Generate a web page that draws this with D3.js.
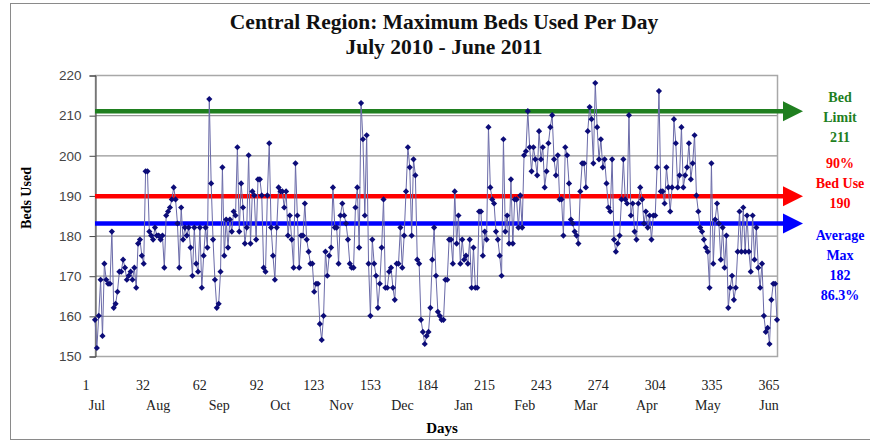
<!DOCTYPE html>
<html>
<head>
<meta charset="utf-8">
<script src="https://cdn.jsdelivr.net/npm/d3@7"></script>
<style>
  body { margin: 0; background: #fff; }
  svg { display: block; }
</style>
</head>
<body>
<svg id="chart" width="870" height="442"></svg>
<script>
// max beds used, one value per day, 1 Jul 2010 .. 30 Jun 2011
var beds = [
  159, 152, 160, 169, 155, 173, 169, 168, 168, 181,
  162, 163, 166, 171, 171, 174, 172, 169, 170, 171,
  169, 172, 167, 178, 179, 175, 173, 196, 196, 181,
  180, 179, 182, 180, 180, 179, 180, 172, 185, 186,
  187, 189, 192, 189, 183, 172, 187, 179, 182, 180,
  182, 177, 170, 182, 173, 171, 182, 167, 175, 182,
  177, 214, 193, 179, 169, 162, 163, 171, 197, 175,
  184, 177, 184, 181, 186, 185, 202, 181, 193, 187,
  178, 182, 200, 178, 191, 190, 179, 194, 194, 190,
  172, 171, 190, 203, 182, 175, 169, 182, 192, 191,
  191, 187, 191, 180, 185, 179, 172, 198, 185, 172,
  180, 180, 188, 179, 176, 173, 173, 166, 168, 168,
  158, 154, 160, 176, 170, 175, 177, 192, 182, 182,
  173, 185, 188, 185, 183, 179, 173, 172, 172, 187,
  192, 177, 213, 204, 185, 205, 173, 160, 179, 173,
  170, 162, 168, 177, 189, 167, 167, 171, 172, 167,
  164, 173, 173, 182, 172, 180, 191, 202, 197, 180,
  199, 195, 174, 173, 159, 156, 153, 155, 156, 162,
  174, 182, 170, 161, 160, 159, 159, 169, 169, 179,
  179, 173, 191, 178, 185, 173, 179, 174, 175, 173,
  179, 167, 177, 167, 167, 186, 186, 175, 181, 179,
  207, 192, 189, 188, 181, 179, 175, 170, 204, 181,
  185, 178, 194, 178, 189, 189, 182, 190, 182, 200,
  201, 211, 202, 196, 202, 199, 195, 206, 199, 202,
  192, 196, 203, 207, 210, 199, 195, 200, 189, 189,
  180, 202, 200, 193, 184, 183, 181, 180, 178, 191,
  198, 198, 192, 206, 212, 209, 198, 218, 207, 199,
  204, 197, 199, 193, 187, 186, 199, 179, 176, 178,
  180, 189, 199, 189, 188, 210, 185, 188, 181, 179,
  188, 192, 189, 183, 186, 182, 185, 179, 185, 185,
  197, 216, 191, 191, 188, 197, 192, 186, 192, 209,
  203, 192, 195, 207, 192, 195, 197, 203, 194, 198,
  205, 190, 186, 182, 181, 179, 177, 176, 167, 198,
  173, 184, 188, 183, 174, 182, 172, 180, 162, 167,
  170, 164, 167, 176, 186, 176, 187, 176, 185, 176,
  171, 185, 174, 182, 172, 167, 173, 160, 156, 157,
  153, 164, 168, 168, 159
];
var dayTicks = [1, 32, 62, 92, 123, 153, 184, 215, 243, 274, 304, 335, 365];
var months = ["Jul", "Aug", "Sep", "Oct", "Nov", "Dec", "Jan", "Feb", "Mar", "Apr", "May", "Jun"];
var yTicks = [150, 160, 170, 180, 190, 200, 210, 220];

// reference lines: bed limit, 90% use, average max
var refValues = [211, 189.8, 183];
var refLabels = [
  ["Bed", "Limit", "211"],
  ["90%", "Bed Use", "190"],
  ["Average", "Max", "182", "86.3%"]
];

var refColors = ["#1f7f1f", "#ff0000", "#0000ff"];
var labelTop = [97, 163, 235];
var serif = "'Liberation Serif', 'Times New Roman', serif";

var svg = d3.select("#chart");
var plotLeft = 95, plotRight = 777, plotTop = 75, plotBottom = 356;

var x = d3.scaleLinear().domain([1, 365]).range([plotLeft, plotRight]);
var y = d3.scaleLinear().domain([150, 220]).range([plotBottom, plotTop]);
var monthX = d3.scalePoint().domain(months).range([97, 769]);
// the day numbers sit in a typed row under the axis, not exactly on the days
var dayX = d3.scalePoint().domain(dayTicks).range([86, 769]);

// outer frame
svg.append("rect")
   .attr("x", 10.5).attr("y", 3.5)
   .attr("width", 870).attr("height", 436)
   .attr("fill", "#fff")
   .attr("stroke", "#8a8a8a");

// title
svg.append("text")
   .attr("x", 444).attr("y", 29)
   .attr("text-anchor", "middle")
   .attr("font-family", serif).attr("font-weight", "bold").attr("font-size", 21.5)
   .attr("fill", "#111")
   .text("Central Region: Maximum Beds Used Per Day");
svg.append("text")
   .attr("x", 444).attr("y", 54)
   .attr("text-anchor", "middle")
   .attr("font-family", serif).attr("font-weight", "bold").attr("font-size", 21.5)
   .attr("fill", "#111")
   .text("July 2010 - June 2011");

// grid lines
svg.append("g").selectAll("line")
   .data(yTicks.filter(function(t){ return t > 150 && t < 220; }))
   .enter().append("line")
   .attr("x1", plotLeft).attr("x2", plotRight)
   .attr("y1", function(d){ return y(d) + 0.5; })
   .attr("y2", function(d){ return y(d) + 0.5; })
   .attr("stroke", "#969696")
   .attr("stroke-width", 1.2);

// plot frame
svg.append("rect")
   .attr("x", plotLeft + 0.5).attr("y", plotTop + 0.5)
   .attr("width", plotRight - plotLeft).attr("height", plotBottom - plotTop)
   .attr("fill", "none")
   .attr("stroke", "#a8a8a8")
   .attr("stroke-width", 1.5);

// y axis
var yAxis = svg.append("g")
   .attr("transform", "translate(" + (plotLeft + 0.5) + ",0.5)")
   .call(d3.axisLeft(y).tickValues(yTicks).tickSize(6).tickPadding(8));
yAxis.select(".domain").attr("stroke", "#444");
yAxis.selectAll(".tick line").attr("stroke", "#444");
yAxis.selectAll("text")
   .attr("font-family", "'Liberation Sans', Arial, sans-serif")
   .attr("font-size", 13.5)
   .attr("fill", "#444");

svg.append("text")
   .attr("transform", "translate(31,198) rotate(-90)")
   .attr("text-anchor", "middle")
   .attr("font-family", serif).attr("font-weight", "bold").attr("font-size", 14)
   .text("Beds Used");

// x labels: day numbers and month names
svg.append("g").selectAll("text")
   .data(dayTicks)
   .enter().append("text")
   .attr("x", function(d){ return dayX(d); })
   .attr("y", 390)
   .attr("text-anchor", "middle")
   .attr("font-family", serif).attr("font-size", 14)
   .attr("fill", "#222")
   .text(function(d){ return d; });

svg.append("g").selectAll("text")
   .data(months)
   .enter().append("text")
   .attr("x", function(d){ return monthX(d); })
   .attr("y", 410)
   .attr("text-anchor", "middle")
   .attr("font-family", serif).attr("font-size", 14)
   .attr("fill", "#222")
   .text(function(d){ return d; });

svg.append("text")
   .attr("x", 442).attr("y", 433)
   .attr("text-anchor", "middle")
   .attr("font-family", serif).attr("font-weight", "bold").attr("font-size", 15)
   .text("Days");

// reference arrows
var arrows = svg.append("g").selectAll("g")
   .data(refValues)
   .enter().append("g");
arrows.append("line")
   .attr("x1", plotLeft).attr("x2", 786)
   .attr("y1", function(d){ return y(d); })
   .attr("y2", function(d){ return y(d); })
   .attr("stroke", function(d, i){ return refColors[i]; })
   .attr("stroke-width", 4.5);
arrows.append("path")
   .attr("d", function(d){
      var yy = y(d);
      return "M783," + (yy - 10) + "L803," + yy + "L783," + (yy + 10) + "Z";
   })
   .attr("fill", function(d, i){ return refColors[i]; });

// labels beside arrows
refLabels.forEach(function(lines, i){
  svg.append("g").selectAll("text")
     .data(lines)
     .enter().append("text")
     .attr("x", 840)
     .attr("y", function(d, j){ return labelTop[i] + j * 20; })
     .attr("dy", "0.35em")
     .attr("text-anchor", "middle")
     .attr("font-family", serif).attr("font-weight", "bold").attr("font-size", 14)
     .attr("fill", refColors[i])
     .text(function(d){ return d; });
});

// daily series
var line = d3.line()
   .x(function(d, i){ return x(i + 1); })
   .y(function(d){ return y(d); });

svg.append("path")
   .datum(beds)
   .attr("d", line)
   .attr("fill", "none")
   .attr("stroke", "#6a6aa8")
   .attr("stroke-width", 1);

svg.append("g").selectAll("path")
   .data(beds)
   .enter().append("path")
   .attr("d", d3.symbol().type(d3.symbolSquare).size(19))
   .attr("transform", function(d, i){
      return "translate(" + x(i + 1) + "," + y(d) + ") rotate(45)";
   })
   .attr("fill", "#0c0c78");
</script>
</body>
</html>
